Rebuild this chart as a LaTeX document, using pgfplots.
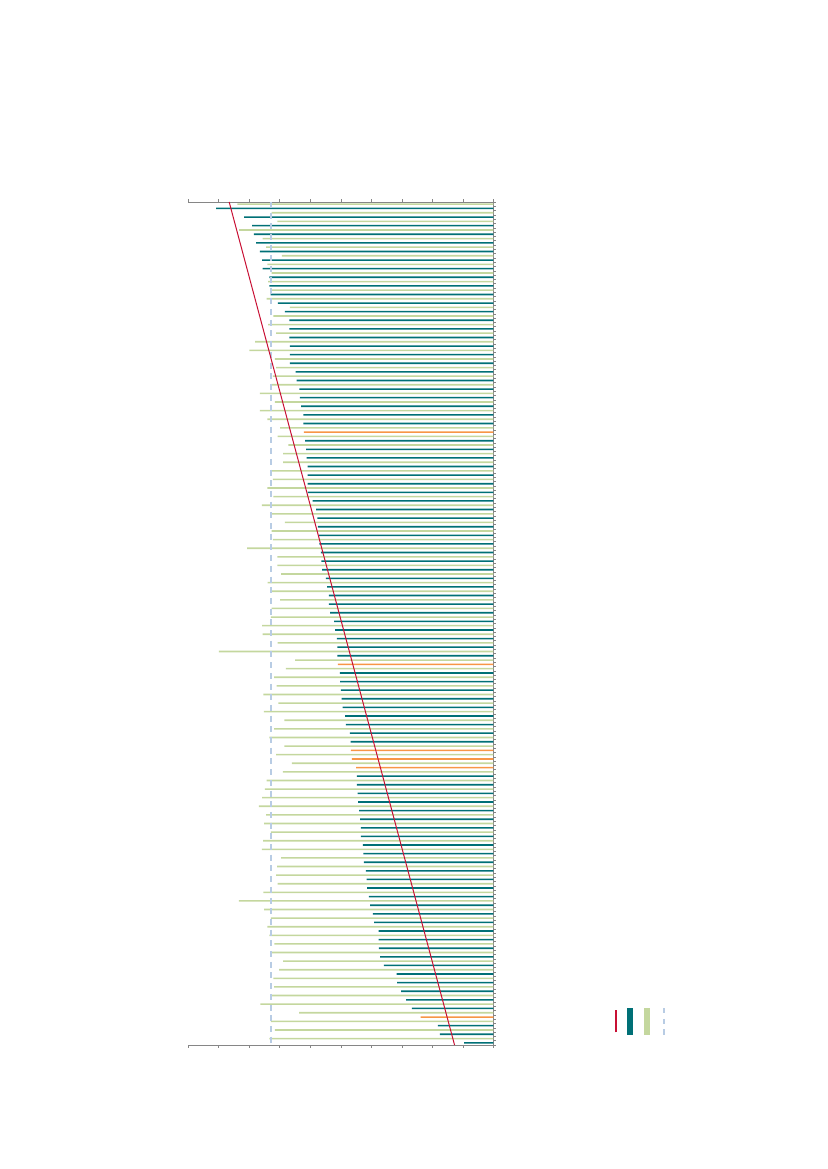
\documentclass[border=0pt]{standalone}
\usepackage{pgfplots}
\usepackage{pgfplotstable}
\pgfplotsset{compat=1.18}

\definecolor{barteal}{RGB}{0,112,118}
\definecolor{bargreen}{RGB}{196,215,158}
\definecolor{barorange}{RGB}{247,150,70}
\definecolor{trendred}{RGB}{200,16,52}
\definecolor{avgblue}{RGB}{184,204,228}
\definecolor{axisgrey}{RGB}{134,134,134}

% rows counted from the top, value read off the (reversed) x axis
\pgfplotstableread{
y v
1 83.9
3 72.7
5 70.8
7 83.3
9 75.6
11 74.5
13 69.3
15 74.1
17 72.7
19 73.8
21 72.7
23 74.3
25 66.7
27 72.1
29 73.8
31 71.2
33 78.1
35 80.0
37 71.6
39 71.2
41 72.3
43 72.7
45 76.5
47 71.6
49 76.5
51 74.1
53 69.9
55 70.7
57 67.2
59 68.9
61 68.9
63 72.9
65 72.3
67 74.1
69 72.1
71 75.9
73 72.6
75 68.3
77 72.7
79 72.3
81 80.7
83 70.8
85 70.8
87 69.6
89 74.0
91 73.2
93 69.9
95 72.7
97 72.9
99 75.8
101 75.6
103 70.7
105 90.0
107 65.0
109 68.0
111 71.9
113 71.0
115 75.4
117 70.5
119 75.2
121 68.5
123 71.9
125 73.4
127 68.5
129 71.2
131 66.0
133 69.0
135 74.3
137 74.9
139 75.8
141 76.9
143 74.5
145 75.1
147 72.9
149 75.5
151 75.9
153 69.6
155 70.9
157 71.2
159 70.7
161 75.4
163 83.4
165 75.1
167 72.9
169 74.1
171 73.4
173 71.8
175 72.9
177 68.9
179 70.2
181 72.1
183 71.9
185 72.9
187 76.4
189 63.7
191 72.9
193 71.6
195 73.4
}\greendata

\pgfplotstableread{
y v
2 90.9
4 81.7
6 79.1
8 78.5
10 77.8
12 76.5
14 75.8
16 75.6
18 73.4
20 73.4
22 73.0
24 70.6
26 68.3
28 66.9
30 66.9
32 66.9
34 66.7
36 66.7
38 66.7
40 64.8
42 64.5
44 63.6
46 63.4
48 63.0
50 62.3
52 62.3
56 61.7
58 61.4
60 61.2
62 60.9
64 60.9
66 60.9
68 60.9
70 59.2
72 58.1
74 57.7
76 57.5
78 57.1
80 57.0
82 56.5
84 56.4
86 56.1
88 54.9
90 54.5
92 53.9
94 53.9
96 53.5
98 52.2
100 51.9
102 51.3
104 51.1
106 51.1
110 50.3
112 50.2
114 50.0
116 49.7
118 49.4
120 48.6
122 48.3
124 47.0
126 46.8
134 44.7
136 44.7
138 44.5
140 44.3
142 44.0
144 43.7
146 43.4
148 43.4
150 42.8
152 42.6
154 42.4
156 41.8
158 41.5
160 41.4
162 40.8
164 40.4
166 39.5
168 39.1
170 37.6
172 37.6
174 37.5
176 37.1
178 35.9
180 31.7
182 31.5
184 30.2
186 28.6
188 26.7
192 18.2
194 17.5
196 9.6
}\tealdata

\pgfplotstableread{
y v
54 62.1
108 51.0
128 46.7
130 46.4
132 45.0
190 23.8
}\orangedata

\begin{document}
\begin{tikzpicture}[x=1pt,y=1pt]
\path[use as bounding box] (0,0) rectangle (827,1169);
\begin{axis}[
  at={(188.3pt,124pt)}, anchor=south west,
  scale only axis, width=305pt, height=843pt,
  x dir=reverse, y dir=reverse,
  xmin=0, xmax=100, ymin=0.5, ymax=196.5,
  axis x line*=box, axis y line*=right,
  axis line style={axisgrey, line width=0.7pt},
  xtick={0,10,...,100}, ytick={0.5,1.5,...,196.5},
  xticklabels={}, yticklabels={},
  tick align=outside, major tick length=2.5pt,
  tick style={axisgrey, line width=0.6pt},
  clip=false,
  mybar/.style={xbar, bar width=1.6pt, bar shift=0pt, draw=none},
  legend columns=4,
  legend style={at={(1.4793,0.0279)}, anchor=center, draw=none, fill=none,
    inner sep=0pt, column sep=0pt, row sep=0pt,
    nodes={inner sep=0pt, text depth=0pt}},
]
% legend symbols only, no text
\addlegendimage{trendred, legend image code/.code={
  \path[draw=none, fill=none] (-8pt,-14pt) rectangle (8pt,14pt);
  \draw[draw=trendred, line width=1.2pt] (2.5pt,-11pt) -- (2.5pt,11pt);}}
\addlegendentry{}
\addlegendimage{barteal, legend image code/.code={
  \path[draw=none, fill=none] (-8pt,-14pt) rectangle (8pt,14pt);
  \fill[fill=barteal, draw=none] (-3.5pt,-13.5pt) rectangle (2.5pt,13.5pt);}}
\addlegendentry{}
\addlegendimage{bargreen, legend image code/.code={
  \path[draw=none, fill=none] (-8pt,-14pt) rectangle (8pt,14pt);
  \fill[fill=bargreen, draw=none] (-3.5pt,-13.5pt) rectangle (2.5pt,13.5pt);}}
\addlegendentry{}
\addlegendimage{avgblue, legend image code/.code={
  \path[draw=none, fill=none] (-8pt,-14pt) rectangle (8pt,14pt);
  \draw[draw=avgblue, line width=1.8pt, dash pattern=on 5.3pt off 5.3pt] (-0.5pt,13.3pt) -- (-0.5pt,-13.3pt);}}
\addlegendentry{}

\addplot[mybar, fill=bargreen, forget plot] table[x=v, y=y] {\greendata};
\addplot[mybar, fill=barteal, forget plot] table[x=v, y=y] {\tealdata};
\addplot[mybar, fill=barorange, forget plot] table[x=v, y=y] {\orangedata};

% average (dashed) and trend line
\addplot[avgblue, line width=1.8pt, dash pattern=on 6pt off 4.7pt, forget plot]
  coordinates {(73.0,0.5) (73.0,196.5)};
\addplot[trendred, line width=1pt, forget plot]
  coordinates {(86.6,0.5) (12.7,196.5)};
\end{axis}
\end{tikzpicture}
\end{document}
